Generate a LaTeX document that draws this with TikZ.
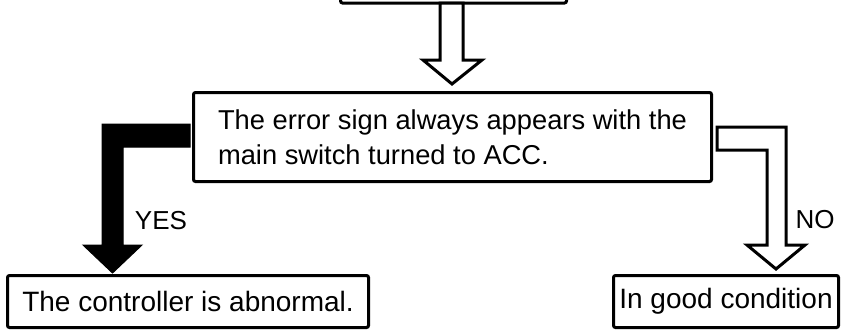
\documentclass[tikz,border=0pt]{standalone}
\usepackage{fontspec}
\setmainfont{Liberation Sans}
\begin{document}
\begin{tikzpicture}[x=1pt,y=-1pt,
  box/.style={draw=black,line width=3pt,rounded corners=2pt,fill=white,inner sep=0pt,
    font=\fontsize{27.3}{35}\selectfont},
  hollow/.style={draw=black,line width=3pt,fill=white,line join=miter},
  solid/.style={fill=black,draw=black,line width=1pt,line join=miter},
  lbl/.style={inner sep=0pt,font=\fontsize{26}{30}\selectfont}]
\useasboundingbox (0,0) rectangle (851,330);
\begin{scope}
\clip (0,0) rectangle (851,330);
\node[box,minimum width=226pt,minimum height=40pt] (top) at (453.5,-17) {};
\end{scope}
\node[box,minimum width=518pt,minimum height=89pt,align=left] (mid) at (452.5,137)
  {The error sign always appears with the\\main switch turned to ACC.};
\node[box,minimum width=361pt,minimum height=52pt,font=\fontsize{28}{32}\selectfont] (yesbox) at (188,301.5) {The controller is abnormal.};
\node[box,minimum width=225pt,minimum height=52pt,font=\fontsize{28}{32}\selectfont] (nobox) at (726,301.5) {In good condition};
% top hollow arrow
\draw[hollow] (440,3) -- (463,3) -- (463,60) -- (482,60) -- (452,84) -- (423,60) -- (440,60) -- cycle;
% yes filled arrow
\draw[solid] (190,124) -- (102,124) -- (102,245) -- (83,245) -- (112.5,273) -- (142,245) -- (123,245) -- (123,147) -- (190,147) -- cycle;
% no hollow arrow
\draw[hollow] (717,127) -- (786,127) -- (786,245) -- (805,245) -- (776,269) -- (747,245) -- (767,245) -- (767,150) -- (717,150) -- cycle;
\node[lbl] (yes) at (161,221) {YES};
\node[lbl] (no) at (815,220) {NO};
\end{tikzpicture}
\end{document}
